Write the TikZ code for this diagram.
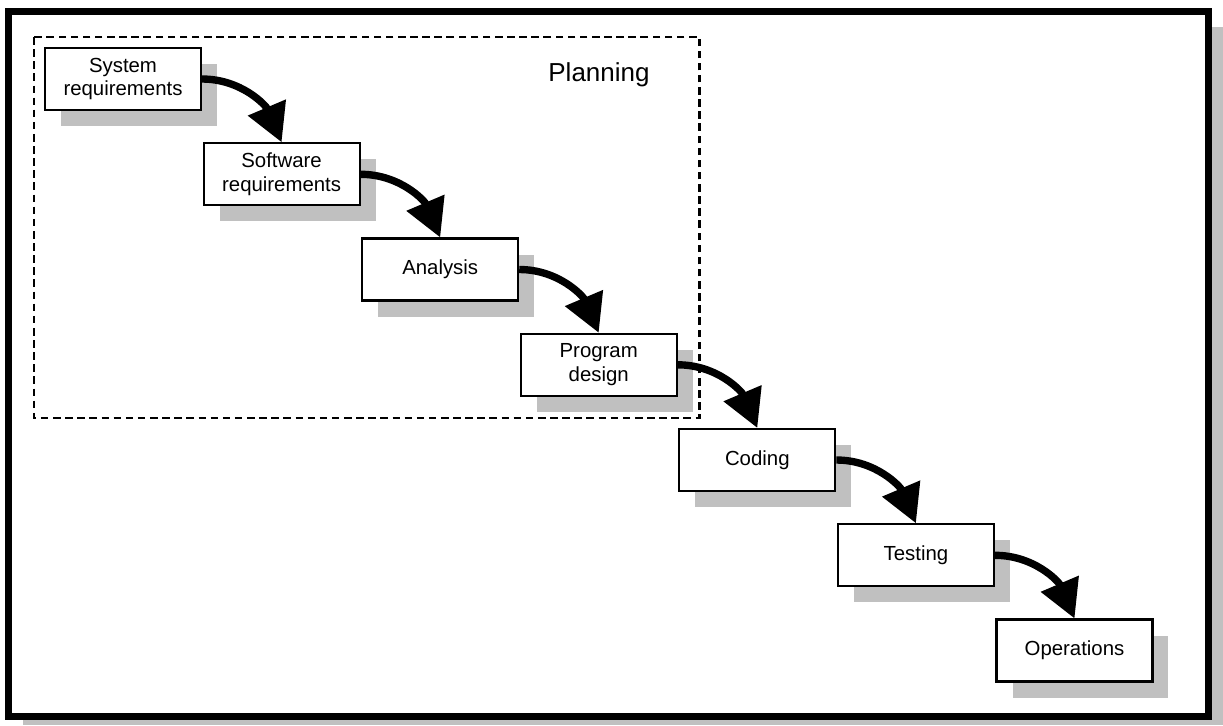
\documentclass[tikz,border=0pt]{standalone}
\usepackage{fontspec}
\setmainfont{Liberation Sans}
\usepackage{xcolor}
\usetikzlibrary{arrows.meta, shadows}
\definecolor{shadowgray}{RGB}{192, 192, 192}

\tikzset{
  stage/.style={draw=black, line width=1.2pt, fill=white, align=center,
    minimum width=3.12cm, minimum height=1.24cm, inner sep=0pt,
    font=\fontsize{11.6}{13.6}\selectfont,
    drop shadow={shadow xshift=0.32cm, shadow yshift=-0.32cm, opacity=1, fill=shadowgray, draw=none}},
  flow/.style={line width=4.2pt, -{Triangle[length=21.5pt, width=22.5pt]}}
}

\begin{document}
\begin{tikzpicture}[x=0.02cm, y=-0.02cm]
        \useasboundingbox (0,0) rectangle (1223,725);
        % outer frame with its shadow
        \fill[shadowgray] (23,27) rectangle (1223,725);
        \draw[line width=4pt, fill=white] (8.5,11.5) rectangle (1208.5,716.5);
        % planning part (dashed)
        \draw[line width=1.3pt, dash pattern=on 4.3pt off 2.6pt] (34,37) rectangle (699.5,418);
        \node[anchor=base, font=\fontsize{14.8}{17}\selectfont] (plan) at (599,81) {Planning};
        % the stages
        \node[stage] (sysreq) at (123,79) {System\\requirements};
        \node[stage] (swreq) at (281.6,174.3) {Software\\requirements};
        \node[stage] (analysis) at (440.2,269.5) {Analysis};
        \node[stage] (progdesign) at (598.7,364.8) {Program\\design};
        \node[stage] (coding) at (757.3,460) {Coding};
        \node[stage] (testing) at (915.9,555.3) {Testing};
        \node[stage] (operations) at (1074.5,650.5) {Operations};
        % arrows from stage to stage
        \draw[flow] (sysreq.east) to[out=0, in=113] (swreq.north);
        \draw[flow] (swreq.east) to[out=0, in=113] (analysis.north);
        \draw[flow] (analysis.east) to[out=0, in=113] (progdesign.north);
        \draw[flow] (progdesign.east) to[out=0, in=113] (coding.north);
        \draw[flow] (coding.east) to[out=0, in=113] (testing.north);
        \draw[flow] (testing.east) to[out=0, in=113] (operations.north);
\end{tikzpicture}
\end{document}
